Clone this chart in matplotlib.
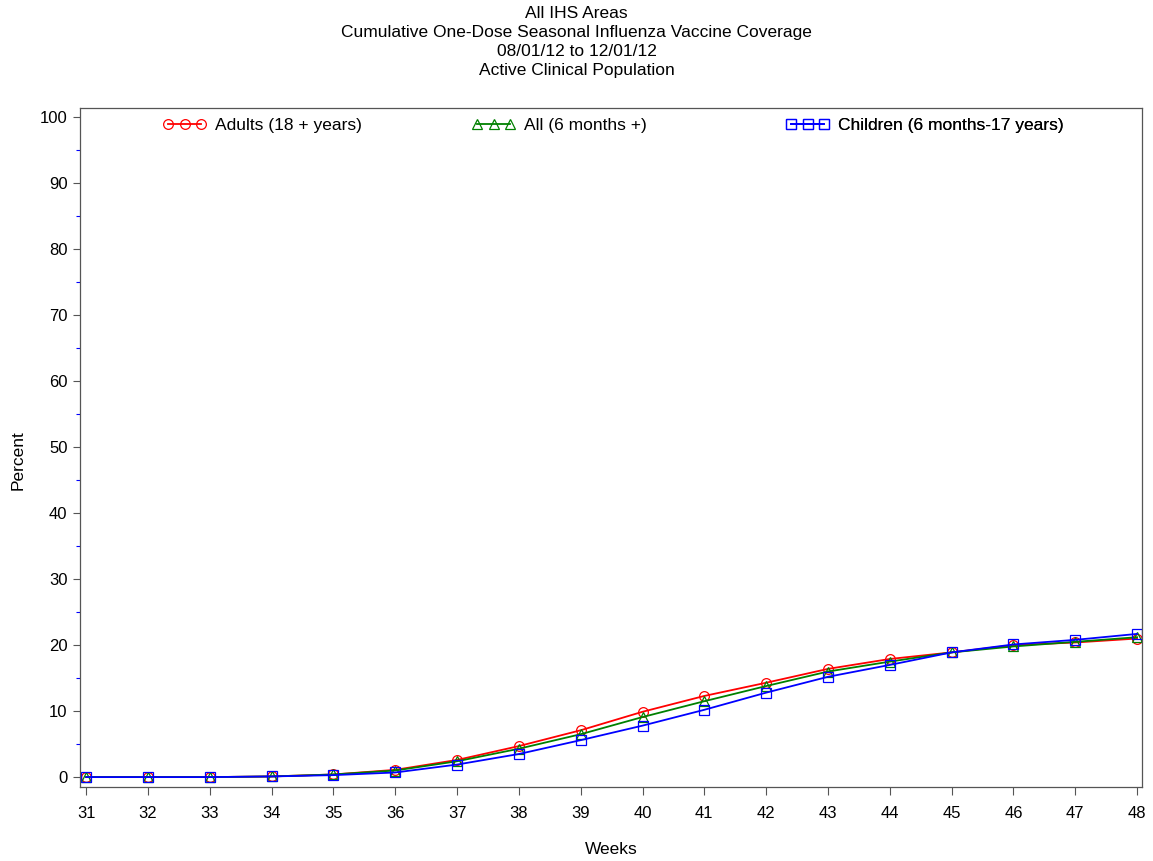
import matplotlib
matplotlib.use("Agg")
import matplotlib.pyplot as plt
from matplotlib.ticker import MultipleLocator

plt.rcParams['font.family'] = ['Liberation Sans', 'DejaVu Sans']

weeks = list(range(31, 49))
adults = [0, 0, 0, 0.1, 0.4, 1.1, 2.6, 4.7, 7.1, 9.9, 12.3, 14.3, 16.4, 17.9, 18.9, 20.0, 20.4, 21.0]
all_pop = [0, 0, 0, 0.1, 0.4, 1.0, 2.4, 4.3, 6.5, 9.1, 11.5, 13.8, 16.0, 17.5, 18.9, 19.8, 20.5, 21.2]
children = [0, 0, 0, 0.1, 0.3, 0.7, 1.9, 3.5, 5.6, 7.8, 10.2, 12.8, 15.2, 17.0, 18.9, 20.1, 20.8, 21.7]

series = [
    ("Adults (18 + years)", adults, "red", "o"),
    ("All (6 months +)", all_pop, "green", "^"),
    ("Children (6 months-17 years)", children, "blue", "s"),
]

title_lines = ["All IHS Areas",
               "Cumulative One-Dose Seasonal Influenza Vaccine Coverage",
               "08/01/12 to 12/01/12",
               "Active Clinical Population"]

fig = plt.figure(figsize=(11.53, 8.61), dpi=100)
ax = fig.add_axes([80/1153, 1-787/861, (1142-80)/1153, (787-108)/861])

handles = []
for label, vals, col, mk in series:
    h, = ax.plot(weeks, vals, color=col, marker=mk, markersize=7,
                 markerfacecolor='none', markeredgecolor=col,
                 markeredgewidth=0.9, linewidth=1.3, label=label)
    handles.append(h)

ax.set_xlim(30.9, 48.08)
ax.set_ylim(-1.5, 101.4)
ax.set_xticks(weeks)
ax.yaxis.set_major_locator(MultipleLocator(10))
ax.yaxis.set_minor_locator(MultipleLocator(5))
ax.tick_params(axis='x', which='major', direction='out', length=6,
               width=0.8, color='#555555', labelsize=12, pad=8)
ax.tick_params(axis='y', which='major', direction='out', length=5,
               width=0.8, color='#555555', labelsize=12, pad=4)
ax.tick_params(axis='y', which='minor', direction='out', length=3,
               width=0.8, color='blue')
for s in ax.spines.values():
    s.set_color('#555555')
    s.set_linewidth(0.9)

fig.text(611 / 1153, 1 - 850 / 861, "Weeks", ha='center', va='center', fontsize=12.5)
fig.text(18 / 1153, 1 - 460 / 861, "Percent", ha='center', va='center',
         rotation=90, fontsize=12.5)

# legend entries placed across the top
xpos = [163, 472, 786]
for h, xp in zip(handles, xpos):
    lg = ax.legend([h], [h.get_label()], loc='center left',
                   bbox_to_anchor=((xp - 80) / (1142 - 80), (787 - 125) / (787 - 108)),
                   frameon=False, numpoints=3, handlelength=2.5,
                   handletextpad=0.5, borderaxespad=0, borderpad=0,
                   fontsize=12.5)
    ax.add_artist(lg)

for i, t in enumerate(title_lines):
    fig.text(0.5, 1 - (13 + 19 * i) / 861, t, ha='center', va='center', fontsize=12.5)

fig.savefig("out.png", dpi=100)
